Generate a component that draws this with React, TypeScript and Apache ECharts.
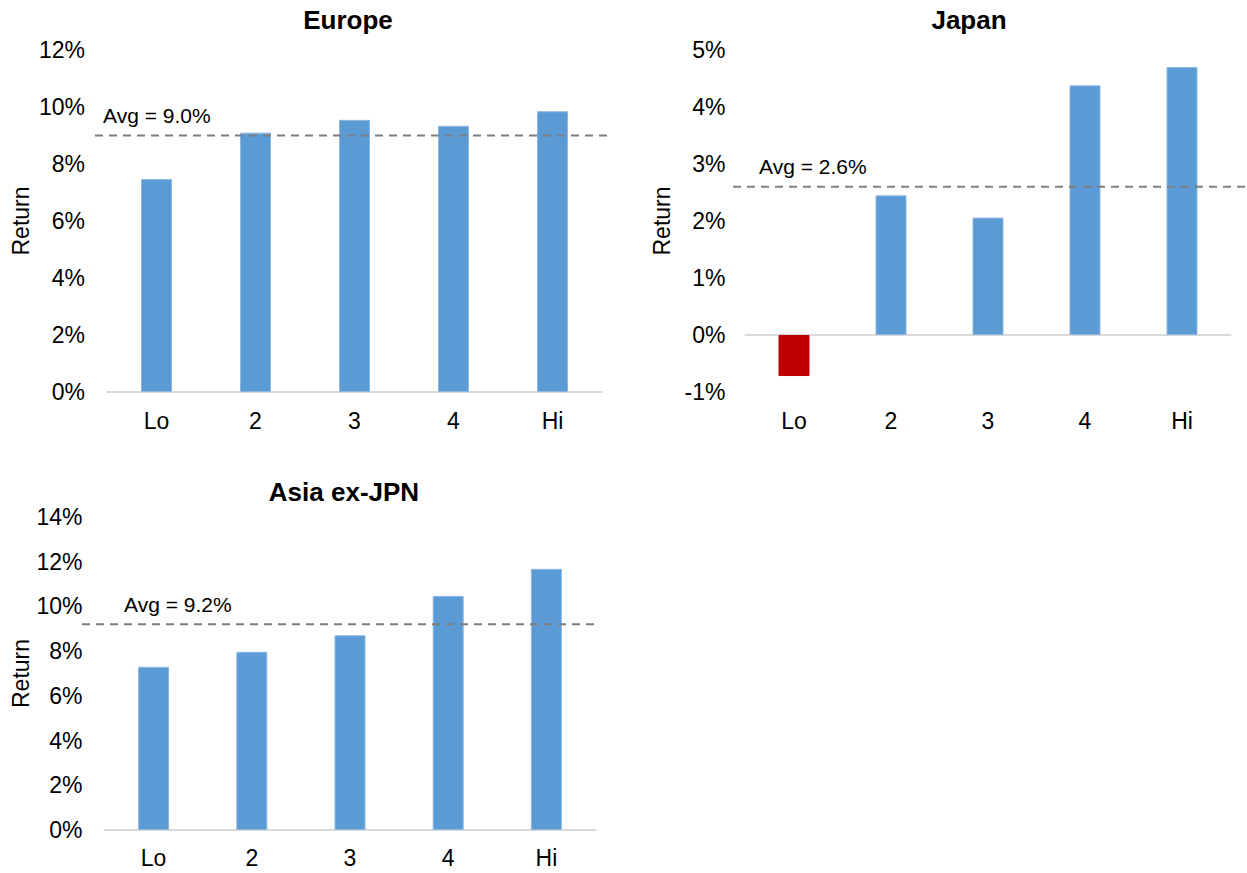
import React, { useEffect, useRef } from "react";
import * as echarts from "echarts";

// Quintile buckets shared by all three regions
const categories = ["Lo", "2", "3", "4", "Hi"];

// Returns per bucket, in percent
const europeReturns = [7.47, 9.1, 9.55, 9.34, 9.85];
const japanReturns = [-0.72, 2.45, 2.06, 4.38, 4.7];
const asiaReturns = [7.3, 7.97, 8.71, 10.47, 11.68];

// Average return per region, in percent
const europeAvg = 9.0;
const japanAvg = 2.6;
const asiaAvg = 9.2;

const FONT = "'Liberation Sans', Arial, Helvetica, sans-serif";
const BLUE = "#5B9BD5";
const RED = "#C00000";
const AXIS_GREY = "#D9D9D9";
const AVG_GREY = "#7F7F7F";

type Panel = {
  title: string;
  values: number[];
  avg: number;
  min: number;
  max: number;
  interval: number;
  grid: { left: number; top: number; width: number; height: number };
  titleX: number;
  titleTop: number;
  avgFrom: number;
  avgTo: number;
  avgLabelDx: number;
  nameGap: number;
  yLabelMargin: number;
  xLabelMargin: number;
};

const panels: Panel[] = [
  {
    title: "Europe",
    values: europeReturns,
    avg: europeAvg,
    min: 0,
    max: 12,
    interval: 2,
    grid: { left: 107, top: 50, width: 495, height: 342 },
    titleX: 348,
    titleTop: 7,
    avgFrom: 95,
    avgTo: 610,
    avgLabelDx: 8,
    nameGap: 75,
    yLabelMargin: 22,
    xLabelMargin: 17,
  },
  {
    title: "Japan",
    values: japanReturns,
    avg: japanAvg,
    min: -1,
    max: 5,
    interval: 1,
    grid: { left: 745.5, top: 50, width: 485, height: 342 },
    titleX: 969,
    titleTop: 7,
    avgFrom: 733,
    avgTo: 1247,
    avgLabelDx: 26,
    nameGap: 72,
    yLabelMargin: 20,
    xLabelMargin: 17,
  },
  {
    title: "Asia ex-JPN",
    values: asiaReturns,
    avg: asiaAvg,
    min: 0,
    max: 14,
    interval: 2,
    grid: { left: 104.5, top: 517, width: 491, height: 313 },
    titleX: 344,
    titleTop: 479,
    avgFrom: 82,
    avgTo: 595,
    avgLabelDx: 42,
    nameGap: 72,
    yLabelMargin: 22,
    xLabelMargin: 16,
  },
];

function buildOption() {
  const n = panels.length;
  const grids: any[] = [];
  const xAxes: any[] = [];
  const yAxes: any[] = [];
  const series: any[] = [];

  // Main plotting grids
  panels.forEach((p) => {
    grids.push({ ...p.grid, containLabel: false });
  });
  // Wider grids carrying the dashed average lines
  panels.forEach((p) => {
    grids.push({
      left: p.avgFrom,
      width: p.avgTo - p.avgFrom,
      top: p.grid.top,
      height: p.grid.height,
      containLabel: false,
    });
  });

  panels.forEach((p, i) => {
    // Category labels along the bottom of the grid
    xAxes.push({
      type: "category",
      gridIndex: i,
      data: categories,
      position: "bottom",
      axisLine: { show: false, onZero: false },
      axisTick: { show: false },
      axisLabel: {
        color: "#000",
        fontSize: 23,
        fontFamily: FONT,
        margin: p.xLabelMargin,
      },
      splitLine: { show: false },
    });
    // Baseline drawn at the zero level
    xAxes.push({
      type: "category",
      gridIndex: i,
      data: categories,
      position: "bottom",
      axisLine: { show: true, onZero: true, lineStyle: { color: AXIS_GREY, width: 2 } },
      axisTick: { show: false },
      axisLabel: { show: false },
      splitLine: { show: false },
    });
    yAxes.push({
      type: "value",
      gridIndex: i,
      min: p.min,
      max: p.max,
      interval: p.interval,
      name: "Return",
      nameLocation: "middle",
      nameRotate: 90,
      nameGap: p.nameGap,
      nameTextStyle: { color: "#000", fontSize: 23, fontFamily: FONT },
      axisLine: { show: false },
      axisTick: { show: false },
      splitLine: { show: false },
      axisLabel: {
        color: "#000",
        fontSize: 23,
        fontFamily: FONT,
        margin: p.yLabelMargin,
        formatter: "{value}%",
      },
    });
  });

  panels.forEach((p, i) => {
    xAxes.push({
      type: "value",
      gridIndex: n + i,
      min: 0,
      max: 1,
      show: false,
    });
    yAxes.push({
      type: "value",
      gridIndex: n + i,
      min: p.min,
      max: p.max,
      interval: p.interval,
      show: false,
    });
  });

  panels.forEach((p, i) => {
    series.push({
      type: "bar",
      xAxisIndex: 2 * i,
      yAxisIndex: i,
      barWidth: 31,
      data: p.values.map((v) => ({
        value: v,
        itemStyle: {
          color: v < 0 ? RED : BLUE,
          borderColor: v < 0 ? RED : "#8DB7E2",
          borderWidth: 1,
        },
      })),
    });
  });

  panels.forEach((p, i) => {
    series.push({
      type: "line",
      xAxisIndex: 2 * n + i,
      yAxisIndex: n + i,
      clip: false,
      symbol: "circle",
      symbolSize: 0,
      showSymbol: true,
      silent: true,
      lineStyle: { color: AVG_GREY, width: 2, type: [8, 6] },
      itemStyle: { color: AVG_GREY },
      data: [
        {
          value: [0, p.avg],
          label: {
            show: true,
            position: [p.avgLabelDx, -20],
            align: "left",
            verticalAlign: "middle",
            formatter: `Avg = ${p.avg.toFixed(1)}%`,
            color: "#000",
            fontSize: 21,
            fontFamily: FONT,
          },
        },
        { value: [1, p.avg], label: { show: false } },
      ],
    });
  });

  return {
    animation: false,
    backgroundColor: "#ffffff",
    textStyle: { fontFamily: FONT },
    title: panels.map((p) => ({
      text: p.title,
      left: p.titleX,
      top: p.titleTop,
      textAlign: "center",
      padding: 0,
      textStyle: { color: "#000", fontSize: 26, fontWeight: "bold", fontFamily: FONT },
    })),
    grid: grids,
    xAxis: xAxes,
    yAxis: yAxes,
    series,
  };
}

export default function App() {
  const ref = useRef<HTMLDivElement>(null);

  useEffect(() => {
    if (!ref.current) return;
    const chart = echarts.init(ref.current, undefined, { renderer: "svg" });
    chart.setOption(buildOption() as any);
    return () => chart.dispose();
  }, []);

  return (
    <div
      ref={ref}
      style={{ position: "fixed", left: 0, top: 0, width: 1247, height: 873, background: "#fff" }}
    />
  );
}
